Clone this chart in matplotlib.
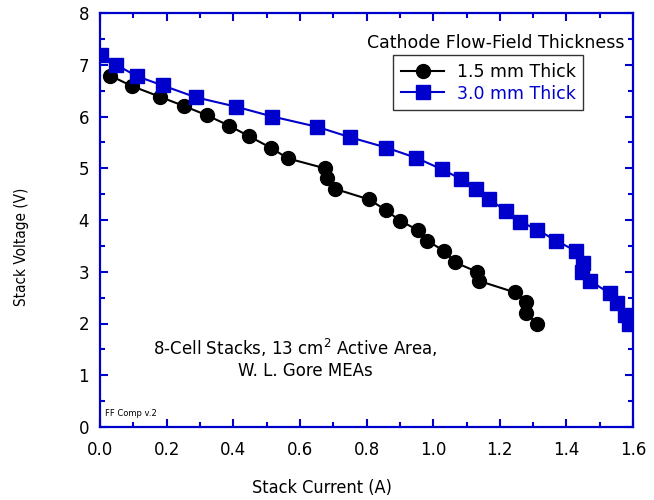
import matplotlib.pyplot as plt
from matplotlib.ticker import MultipleLocator

# 1.5 mm thick flow field (black circles)
i_thin = [0.03, 0.095, 0.18, 0.253, 0.322, 0.388, 0.447, 0.514, 0.564, 0.674, 0.681, 0.706,
          0.806, 0.859, 0.899, 0.953, 0.982, 1.033, 1.066, 1.131, 1.139, 1.246, 1.279, 1.279, 1.311]
v_thin = [6.79, 6.59, 6.38, 6.2, 6.02, 5.82, 5.62, 5.39, 5.19, 5.0, 4.81, 4.6,
          4.4, 4.19, 3.99, 3.81, 3.6, 3.4, 3.18, 3.0, 2.82, 2.6, 2.41, 2.2, 2.0]

# 3.0 mm thick flow field (blue squares)
i_thick = [0.003, 0.048, 0.11, 0.188, 0.288, 0.408, 0.517, 0.652, 0.75, 0.859, 0.949, 1.026,
           1.084, 1.128, 1.168, 1.218, 1.261, 1.313, 1.369, 1.429, 1.449, 1.446, 1.471,
           1.531, 1.552, 1.577, 1.587]
v_thick = [7.19, 7.0, 6.78, 6.6, 6.37, 6.19, 6.0, 5.8, 5.6, 5.4, 5.2, 4.98,
           4.79, 4.59, 4.41, 4.17, 3.97, 3.81, 3.6, 3.4, 3.16, 3.0, 2.82,
           2.58, 2.4, 2.16, 1.99]

blue = '#0000cc'
font = 'DejaVu Sans'

fig = plt.figure(figsize=(6.54, 5.0), dpi=100)
ax = fig.add_axes([0.153, 0.146, 0.815, 0.828])

ax.plot(i_thin, v_thin, color='black', lw=1.5, marker='o', ms=10, label='1.5 mm Thick')
ax.plot(i_thick, v_thick, color=blue, lw=1.5, marker='s', ms=10.5, label='3.0 mm Thick')

ax.set_xlim(0, 1.6)
ax.set_ylim(0, 8)
ax.xaxis.set_major_locator(MultipleLocator(0.2))
ax.xaxis.set_minor_locator(MultipleLocator(0.1))
ax.yaxis.set_major_locator(MultipleLocator(1))
ax.yaxis.set_minor_locator(MultipleLocator(0.5))
ax.xaxis.set_major_formatter(plt.FuncFormatter(lambda v, p: '%.1f' % v))

for s in ax.spines.values():
    s.set_color(blue)
    s.set_linewidth(1.6)
ax.tick_params(which='both', direction='in', color=blue, top=True, right=True, width=1.5)
ax.tick_params(which='major', length=6, labelsize=12)
ax.tick_params(axis='x', which='major', pad=10)
ax.tick_params(axis='y', which='major', pad=8)
ax.tick_params(which='minor', length=3.5)
for lab in ax.get_xticklabels() + ax.get_yticklabels():
    lab.set_family(font)

# axis titles sit off-centre in the original
fig.text(322 / 654, 1 - 488 / 500, 'Stack Current (A)', ha='center', va='center',
         fontsize=13, family='DejaVu Sans', stretch='condensed')
fig.text(22 / 654, 1 - 247 / 500, 'Stack Voltage (V)', ha='center', va='center',
         rotation=90, fontsize=11, family='DejaVu Sans', stretch='condensed')

ax.text(0.742, 0.928, 'Cathode Flow-Field Thickness', transform=ax.transAxes,
        ha='center', va='center', fontsize=12.5, family=font)
leg = ax.legend(loc='upper left', bbox_to_anchor=(0.55, 0.898), frameon=True, fancybox=False,
                prop={'family': font, 'size': 12.5}, handlelength=2.5, handletextpad=0.7,
                borderpad=0.45, labelspacing=0.2, borderaxespad=0)
leg.get_frame().set_edgecolor('black')
leg.get_frame().set_linewidth(1.0)
leg.get_texts()[1].set_color(blue)

ax.text(0.366, 0.19, '8-Cell Stacks, 13 cm$^2$ Active Area,', transform=ax.transAxes,
        ha='center', va='center', fontsize=12, family=font)
ax.text(0.385, 0.135, 'W. L. Gore MEAs', transform=ax.transAxes,
        ha='center', va='center', fontsize=12, family=font)
ax.text(0.01, 0.032, 'FF Comp v.2', transform=ax.transAxes,
        ha='left', va='center', fontsize=6, family=font)

fig.savefig('out.png', dpi=100)
